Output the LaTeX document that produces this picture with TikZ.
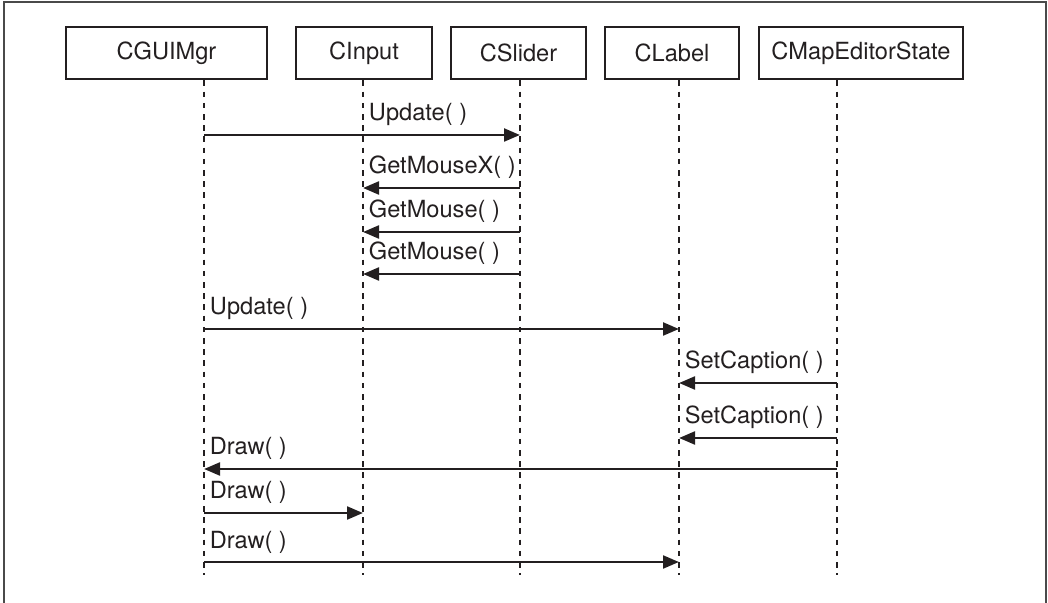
\documentclass[tikz,border=0pt]{standalone}
\usepackage{fontspec}
\setmainfont{TeX Gyre Heros}
\usetikzlibrary{arrows.meta}
\definecolor{umlInk}{HTML}{231F20}
\definecolor{umlFrame}{HTML}{4A4A4A}
\tikzset{
  % one ink colour for the whole sequence chart
  every picture/.append style = {line width=1.6pt, umlInk},
}

\begin{document}
\begin{tikzpicture}[x=1cm,y=1cm,
    obj/.style={draw=umlInk, line width=2pt, minimum height=1.3cm,
                inner sep=0, font=\fontsize{16.8}{20}\selectfont},
    life/.style={dash pattern=on 0.14cm off 0.14cm, line width=1.9pt},
    call/.style={-{Triangle[length=4mm, width=3.2mm]}, line width=2pt},
    msg/.style={anchor=base west, inner sep=0, font=\fontsize{16.8}{20}\selectfont}]
  \useasboundingbox (0,0) rectangle (26.2,-15.075);
  % --- frame, its lower edge lies below the page ---------------------------
  \draw[umlFrame, line width=1.5pt] (0.1,-15.5) -- (0.1,-0.05) -- (26.16,-0.05) -- (26.16,-15.5);
  % --- objects -------------------------------------------------------------
  \node[obj, minimum width=5.025cm] (gui)    at (4.1625,-1.325)  {CGUIMgr};
  \node[obj, minimum width=3.4cm]   (input)  at (9.1,-1.325)     {CInput};
  \node[obj, minimum width=3.375cm] (slider) at (12.9625,-1.325) {CSlider};
  \node[obj, minimum width=3.35cm]  (label)  at (16.8,-1.325)    {CLabel};
  \node[obj, minimum width=5.1cm]   (state)  at (21.525,-1.325)  {CMapEditorState};
  % --- lifelines -----------------------------------------------------------
  \foreach \n/\x in {gui/5.1, input/9.075, slider/13.0, label/16.975, state/20.925} {
    \coordinate (\n-top) at (\n.south -| \x,0);
    \coordinate (\n-end) at (\x,-14.375);
    \draw[life] (\n-top) -- (\n-end);
  }
  % --- messages: from / to / height / label lifeline / text ---------------
  \foreach \a/\b/\y/\at/\txt in {
      gui/slider/-3.375/input/{Update( )},
      slider/input/-4.7/input/{GetMouseX( )},
      slider/input/-5.8/input/{GetMouse( )},
      slider/input/-6.85/input/{GetMouse( )},
      gui/label/-8.225/gui/{Update( )},
      state/label/-9.575/label/{SetCaption( )},
      state/label/-10.95/label/{SetCaption( )},
      state/gui/-11.725/gui/{Draw( )},
      gui/input/-12.825/gui/{Draw( )},
      gui/label/-14.05/gui/{Draw( )}} {
    \draw[call] (\a-top |- 0,\y) -- (\b-top |- 0,\y);
    \node[msg, xshift=1.2mm, yshift=3.5mm] at (\at-top |- 0,\y) {\txt};
  }
\end{tikzpicture}
\end{document}
